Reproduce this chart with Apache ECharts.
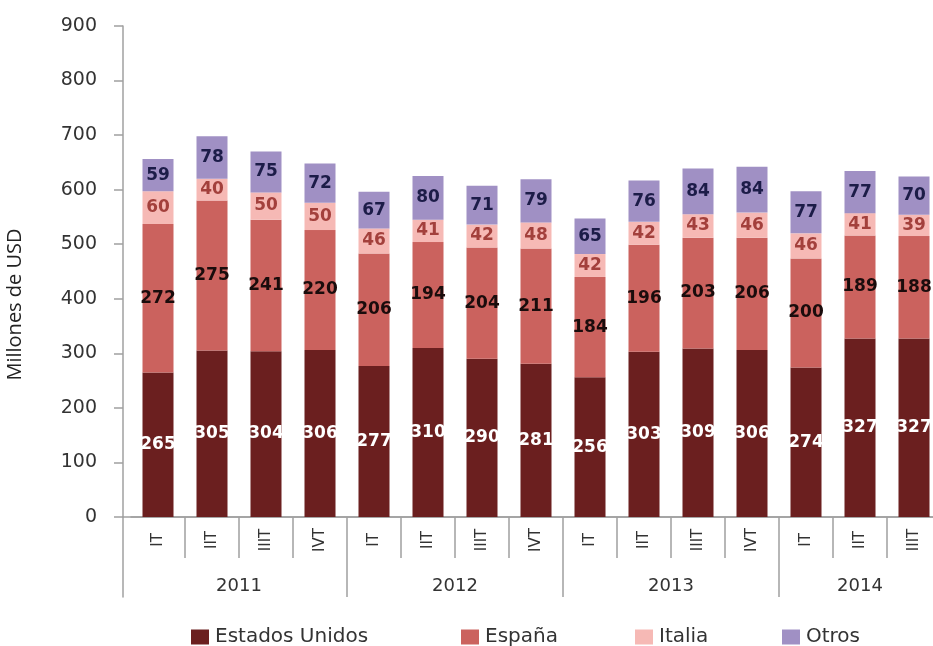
<!DOCTYPE html>
<html>
<head>
<meta charset="utf-8">
<script src="https://cdn.jsdelivr.net/npm/echarts@6/dist/echarts.min.js"></script>
<style>
  html, body { margin: 0; padding: 0; background: #fff; }
  #chart { width: 933px; height: 646px; }
</style>
</head>
<body>
<div id="chart"></div>
<script>
// Quarterly figures, millions of USD
const quarters = ['IT', 'IIT', 'IIIT', 'IVT', 'IT', 'IIT', 'IIIT', 'IVT', 'IT', 'IIT', 'IIIT', 'IVT', 'IT', 'IIT', 'IIIT'];
const years = ['2011', '2012', '2013', '2014'];
const quartersPerYear = [4, 4, 4, 3];
const yTicks = [0, 100, 200, 300, 400, 500, 600, 700, 800, 900];

const estadosUnidos = [265, 305, 304, 306, 277, 310, 290, 281, 256, 303, 309, 306, 274, 327, 327];
const espana        = [272, 275, 241, 220, 206, 194, 204, 211, 184, 196, 203, 206, 200, 189, 188];
const italia        = [60, 40, 50, 50, 46, 41, 42, 48, 42, 42, 43, 46, 46, 41, 39];
const otros         = [59, 78, 75, 72, 67, 80, 71, 79, 65, 76, 84, 84, 77, 77, 70];

// Year group boundaries and centres along the quarter axis
const yearBounds = [];
const yearCentres = [];
let acc = 0;
quartersPerYear.forEach((n, i) => {
  if (i > 0) yearBounds.push(acc);
  yearCentres.push(acc + n / 2);
  acc += n;
});

const FONT = 'DejaVu Sans';
const AXIS_GREY = '#a0a0a0';
const TEXT = '#333333';

function barSeries(name, data, color, labelColor) {
  return {
    name: name,
    type: 'bar',
    stack: 'total',
    data: data,
    barWidth: 31,
    itemStyle: { color: color },
    label: {
      show: true,
      position: 'inside',
      color: labelColor,
      fontFamily: FONT,
      fontWeight: 'bold',
      fontSize: 17
    },
    emphasis: { disabled: true }
  };
}

function legendFor(name, left) {
  return {
    data: [name],
    left: left,
    top: 622,
    itemWidth: 18,
    itemHeight: 15,
    itemGap: 0,
    textStyle: { fontFamily: FONT, fontSize: 20, color: TEXT, padding: [0, 0, 0, 1] },
    icon: 'rect'
  };
}

const chart = echarts.init(document.getElementById('chart'), null, { renderer: 'canvas' });

chart.setOption({
  animation: false,
  backgroundColor: '#ffffff',
  grid: [
    { left: 131, right: -8, top: 26, bottom: 129, outerBoundsMode: 'none', containLabel: false },
    { left: 123, right: -8, top: 517, height: 80, outerBoundsMode: 'none', containLabel: false }
  ],
  legend: [
    legendFor('Estados Unidos', 186),
    legendFor('España', 456),
    legendFor('Italia', 630),
    legendFor('Otros', 777)
  ],
  xAxis: [
    {
      type: 'category',
      gridIndex: 0,
      data: quarters,
      axisLine: { show: true, onZero: false, lineStyle: { color: AXIS_GREY, width: 1.5 } },
      axisTick: {
        show: true,
        // separators between quarters only; the outer edge is the y-axis line
        interval: function (index) { return index > 0; },
        length: 41,
        lineStyle: { color: AXIS_GREY, width: 1.5 }
      },
      axisLabel: {
        interval: 0,
        rotate: 90,
        align: 'center',
        verticalAlign: 'middle',
        margin: 23,
        fontFamily: FONT,
        fontSize: 15,
        color: TEXT
      }
    },
    {
      type: 'value',
      gridIndex: 0,
      min: 0,
      max: quarters.length,
      position: 'bottom',
      axisLine: { show: false, onZero: false },
      splitLine: { show: false },
      axisTick: {
        show: true,
        length: 80,
        customValues: yearBounds,
        lineStyle: { color: AXIS_GREY, width: 1.5 }
      },
      axisLabel: {
        customValues: yearCentres,
        formatter: function (v) {
          const i = yearCentres.indexOf(v);
          return i >= 0 ? years[i] : '';
        },
        margin: 60,
        fontFamily: FONT,
        fontSize: 18,
        color: TEXT
      }
    },
    {
      type: 'value',
      gridIndex: 1,
      min: 0,
      max: 1,
      position: 'top',
      axisLine: { show: true, onZero: false, lineStyle: { color: AXIS_GREY, width: 1.5 } },
      axisTick: { show: false },
      axisLabel: { show: false },
      splitLine: { show: false }
    }
  ],
  yAxis: [
    {
      type: 'value',
      gridIndex: 0,
      position: 'left',
      min: yTicks[0],
      max: yTicks[yTicks.length - 1],
      interval: yTicks[1] - yTicks[0],
      offset: 8,
      name: 'Millones de USD',
      nameLocation: 'middle',
      nameGap: 98,
      nameRotate: 90,
      nameTextStyle: { fontFamily: 'Open Sans', fontSize: 20, color: '#222', padding: [0, 66, 0, 0] },
      axisLine: { show: true, onZero: false, lineStyle: { color: AXIS_GREY, width: 1.5 } },
      axisTick: { show: true, length: 9, lineStyle: { color: AXIS_GREY, width: 1.5 } },
      splitLine: { show: false },
      axisLabel: {
        margin: 26,
        fontFamily: FONT,
        fontSize: 19,
        color: TEXT
      }
    },
    {
      type: 'value',
      gridIndex: 1,
      position: 'left',
      min: 0,
      max: 1,
      axisLine: { show: true, onZero: false, lineStyle: { color: AXIS_GREY, width: 1.5 } },
      axisTick: { show: false },
      axisLabel: { show: false },
      splitLine: { show: false }
    }
  ],
  series: [
    barSeries('Estados Unidos', estadosUnidos, '#6b1f1f', '#ffffff'),
    barSeries('España', espana, '#cb625e', '#1a0c0c'),
    barSeries('Italia', italia, '#f6b9b5', '#a3403c'),
    barSeries('Otros', otros, '#a090c4', '#1c1c48')
  ]
});
</script>
</body>
</html>
